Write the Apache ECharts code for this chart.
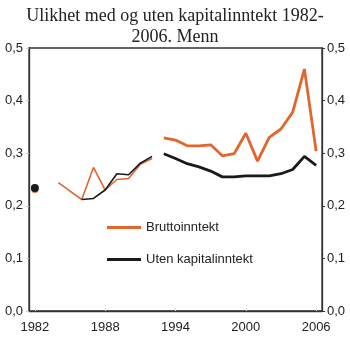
<!DOCTYPE html>
<html>
<head>
<meta charset="utf-8">
<script src="https://cdn.jsdelivr.net/npm/echarts@6/dist/echarts.min.js"></script>
<style>
  html, body { margin: 0; padding: 0; background: #fff; }
  #chart { width: 350px; height: 339px; }
</style>
</head>
<body>
<div id="chart"></div>
<script>
// Years on the category axis
const years = [];
for (let y = 1982; y <= 2006; y++) years.push(String(y));

// Older series (1982–1992); 1983 not available
const bruttoOld = [0.231, null, 0.244, 0.228, 0.212, 0.273, 0.230, 0.250, 0.252, 0.279, 0.290];
const utenOld   = [0.234, null, null, null, 0.212, 0.214, 0.230, 0.261, 0.259, 0.281, 0.294];

// Newer series (1993–2006)
const bruttoNew = [0.329, 0.325, 0.314, 0.314, 0.316, 0.295, 0.299, 0.338, 0.285, 0.330, 0.346, 0.378, 0.460, 0.304];
const utenNew   = [0.299, 0.290, 0.280, 0.274, 0.266, 0.255, 0.255, 0.257, 0.257, 0.257, 0.261, 0.269, 0.294, 0.277];

const yTicks = [0, 0.1, 0.2, 0.3, 0.4, 0.5];

const ORANGE = '#E2652D';
const BLACK = '#1a1a1a';

// Place a partial series onto the full year range
function spread(values, startYear, dotFirst, dotSize) {
  const out = years.map(() => null);
  const offset = startYear - 1982;
  values.forEach((v, i) => {
    if (v === null) return;
    if (dotFirst && i === 0) {
      out[offset + i] = { value: v, symbol: 'circle', symbolSize: dotSize };
    } else {
      out[offset + i] = v;
    }
  });
  return out;
}

const fmt = v => v.toFixed(1).replace('.', ',');
const labelFont = { fontFamily: 'Liberation Sans, Arial, sans-serif', fontSize: 13, color: '#222' };

const chart = echarts.init(document.getElementById('chart'), null, { renderer: 'canvas' });
chart.setOption({
  animation: false,
  backgroundColor: '#fff',
  title: {
    text: 'Ulikhet med og uten kapitalinntekt 1982-\n2006. Menn',
    left: 'center',
    top: 1,
    textStyle: {
      fontFamily: 'Liberation Serif, Times New Roman, serif',
      fontSize: 18,
      fontWeight: 'normal',
      color: '#222',
      lineHeight: 21
    }
  },
  grid: {
    left: 29, right: 28, top: 48, bottom: 28,
    show: true, borderColor: '#333', borderWidth: 1.3, backgroundColor: 'transparent'
  },
  legend: {
    orient: 'vertical',
    left: 102,
    top: 216,
    itemGap: 19,
    itemWidth: 34,
    itemHeight: 3,
    icon: 'rect',
    data: [
      { name: 'Bruttoinntekt', itemStyle: { color: ORANGE } },
      { name: 'Uten kapitalinntekt', itemStyle: { color: BLACK } }
    ],
    textStyle: labelFont
  },
  xAxis: {
    type: 'category',
    data: years,
    boundaryGap: true,
    axisLine: { show: true, lineStyle: { color: '#333', width: 1.3 } },
    axisTick: { show: true, alignWithLabel: true, interval: 5, inside: true, length: 3, lineStyle: { color: '#ddd' } },
    axisLabel: { interval: 5, margin: 10, ...labelFont }
  },
  yAxis: [
    {
      type: 'value', min: 0, max: 0.5, interval: 0.1, position: 'left',
      splitLine: { show: false },
      axisLine: { show: true, lineStyle: { color: '#333', width: 1.3 } },
      axisTick: { show: true, length: 3, lineStyle: { color: '#ccc' } },
      axisLabel: { formatter: fmt, margin: 6, ...labelFont }
    },
    {
      type: 'value', min: 0, max: 0.5, interval: 0.1, position: 'right',
      splitLine: { show: false },
      axisLine: { show: true, lineStyle: { color: '#333', width: 1.3 } },
      axisTick: { show: true, length: 3, lineStyle: { color: '#333' } },
      axisLabel: { formatter: fmt, margin: 5, ...labelFont }
    }
  ],
  series: [
    {
      name: 'Bruttoinntekt', type: 'line', data: spread(bruttoOld, 1982, true, 7),
      symbol: 'none', showSymbol: true, connectNulls: false,
      lineStyle: { color: ORANGE, width: 1.6 }, itemStyle: { color: ORANGE, borderWidth: 0 }
    },
    {
      name: 'Uten kapitalinntekt', type: 'line', data: spread(utenOld, 1982, true, 8),
      symbol: 'none', showSymbol: true, connectNulls: false,
      lineStyle: { color: BLACK, width: 1.6 }, itemStyle: { color: BLACK, borderWidth: 0 }
    },
    {
      name: 'Bruttoinntekt', type: 'line', data: spread(bruttoNew, 1993, false),
      symbol: 'none',
      lineStyle: { color: ORANGE, width: 2.8 }, itemStyle: { color: ORANGE }
    },
    {
      name: 'Uten kapitalinntekt', type: 'line', data: spread(utenNew, 1993, false),
      symbol: 'none',
      lineStyle: { color: BLACK, width: 2.8 }, itemStyle: { color: BLACK }
    }
  ]
});
</script>
</body>
</html>
